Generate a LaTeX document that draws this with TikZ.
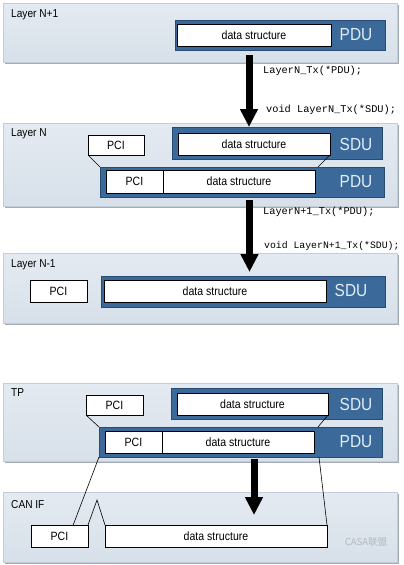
\documentclass[tikz,border=0pt]{standalone}
\usepackage{fontspec}
\setmainfont{Liberation Sans}[FakeStretch=0.88]
\setmonofont{Liberation Mono}
\newfontfamily\cjkfont{Noto Sans CJK SC}
\usepackage{tikz}
\usetikzlibrary{arrows.meta, calc, shadows}
\definecolor{paneltop}{HTML}{E4EAF1}
\definecolor{panelbot}{HTML}{D7E0E9}
\definecolor{panelrim}{HTML}{C3CDD8}
\definecolor{panelshade}{HTML}{A3ACB6}
\definecolor{dublue}{HTML}{3B6A9A}
\definecolor{dunavy}{HTML}{274B72}
\definecolor{dutext}{HTML}{E3EDF7}
\definecolor{markgray}{HTML}{B5B9BE}

\begin{document}
\begin{tikzpicture}[x=1pt, y=-1pt, >=Latex]
    \tikzstyle{layer} = [rectangle, draw=panelrim, top color=paneltop, bottom color=panelbot, inner sep=0, outer sep=0, line width=0.6pt, general shadow={fill=panelshade, shadow xshift=1.6pt, shadow yshift=-1.6pt}]
    \tikzstyle{duframe} = [rectangle, draw=dunavy, fill=dublue, inner sep=0, outer sep=0, line width=1pt]
    \tikzstyle{field} = [rectangle, draw=black, fill=white, inner sep=0, outer sep=0, line width=0.7pt, font=\fontsize{12}{14}\selectfont, minimum height=22pt]
    \tikzstyle{dutag} = [text=dutext, font=\fontsize{17.5}{20}\selectfont, inner sep=0]
    \tikzstyle{layertag} = [anchor=west, font=\fontsize{11.5}{13}\selectfont, inner sep=0]
    \tikzstyle{apicall} = [anchor=west, font=\ttfamily\fontsize{10.3}{12}\selectfont, inner sep=0]
    \tikzstyle{passarrow} = [draw, line width=7pt, -{Triangle[width=17pt, length=18pt]}]
    \tikzstyle{link} = [draw, line width=0.6pt]

    \useasboundingbox (0,0) rectangle (404,565);

    % Layer N+1
    \node [layer, minimum width=394pt, minimum height=59pt] (lyra) at (200,32.5) {};
    \node [layertag] (taga) at (11,15) {Layer N+1};
    \node [duframe, minimum width=210pt, minimum height=30pt] (pdua) at (280,35) {};
    \node [field, minimum width=154pt] (dsa) at (254,35) {data structure};
    \node [dutag] (pduta) at (356,35) {PDU};

    % Layer N
    \node [layer, minimum width=394pt, minimum height=83pt] (lyrb) at (200,164.5) {};
    \node [layertag] (tagb) at (11,134) {Layer N};
    \node [field, minimum width=56pt, minimum height=20pt] (pcib) at (116,145) {PCI};
    \node [duframe, minimum width=210pt, minimum height=32pt] (sdub) at (277,143) {};
    \node [field, minimum width=152pt] (dsb) at (254,144) {data structure};
    \node [dutag] (sdutb) at (356,144) {SDU};
    \node [duframe, minimum width=284pt, minimum height=30pt] (pdub) at (242,182) {};
    \node [field, minimum width=57pt, minimum height=23pt] (pcic) at (134.5,181.5) {PCI};
    \node [field, minimum width=152pt, minimum height=23pt] (dsc) at (239,181.5) {data structure};
    \node [dutag] (pdutb) at (356,182) {PDU};
    \path [link] (pcib.south west) -- (pdub.north west);
    \path [link] (dsb.south east) -- ([xshift=3pt]dsc.north east |- pdub.north);

    % Layer N-1
    \node [layer, minimum width=394pt, minimum height=70pt] (lyrc) at (200,288) {};
    \node [layertag] (tagc) at (11,265) {Layer N-1};
    \node [field, minimum width=57pt] (pcid) at (58.5,291) {PCI};
    \node [duframe, minimum width=284pt, minimum height=31pt] (sduc) at (243,291.5) {};
    \node [field, minimum width=222pt] (dsd) at (215,291) {data structure};
    \node [dutag] (sdutc) at (351,290) {SDU};

    % TP
    \node [layer, minimum width=394pt, minimum height=78pt] (lyrd) at (200,422) {};
    \node [layertag] (tagd) at (11,393) {TP};
    \node [field, minimum width=57pt, minimum height=20pt] (pcie) at (114.5,405) {PCI};
    \node [duframe, minimum width=211pt, minimum height=31pt] (sdud) at (276.5,403.5) {};
    \node [field, minimum width=151pt] (dse) at (252.5,404) {data structure};
    \node [dutag] (sdutd) at (356,404) {SDU};
    \node [duframe, minimum width=283pt, minimum height=30pt] (pdud) at (240.5,442) {};
    \node [field, minimum width=57pt] (pcif) at (133.5,442) {PCI};
    \node [field, minimum width=152pt] (dsf) at (238,442) {data structure};
    \node [dutag] (pdutd) at (356,442) {PDU};
    \path [link] (pcie.south west) -- (pdud.north west);
    \path [link] (dse.south east) -- ([xshift=4pt]dsf.north east |- pdud.north);

    % CAN IF
    \node [layer, minimum width=394pt, minimum height=70pt] (lyre) at (200,527) {};
    \node [layertag] (tage) at (11,505) {CAN IF};
    \node [field, minimum width=57pt] (pcig) at (59.5,536) {PCI};
    \node [field, minimum width=222pt] (dsg) at (216,536) {data structure};
    \coordinate (apex) at (97,500);
    \path [link] (pdud.south west) -- ($(pcig.north west)!0.74!(pcig.north east)$);
    \path [link] (pcig.north east) -- (apex) -- (dsg.north west);
    \path [link] ([xshift=5pt]dsf.east |- pdud.south) -- (dsg.north east);
    \node [text=markgray, font=\cjkfont\fontsize{9.5}{11}\selectfont, inner sep=0] (mark) at (366,542) {CASA联盟};

    % transfers between layers
    \coordinate (a1top) at (249,55);
    \coordinate (a2top) at (249.5,200);
    \coordinate (a2tip) at (249.5,272);
    \coordinate (a3top) at (254,459);
    \coordinate (a3tip) at (254,515);
    \path [passarrow] (a1top) -- (a1top |- sdub.north);
    \path [passarrow] (a2top) -- (a2tip);
    \path [passarrow] (a3top) -- (a3tip);

    \node [apicall] (txa) at (263,71) {LayerN\_Tx(*PDU);};
    \node [apicall] (rxa) at (266,110) {void LayerN\_Tx(*SDU);};
    \node [apicall] (txb) at (263,212) {LayerN+1\_Tx(*PDU);};
    \node [apicall, font=\ttfamily\fontsize{9.8}{12}\selectfont] (rxb) at (264,246) {void LayerN+1\_Tx(*SDU);};
\end{tikzpicture}
\end{document}
